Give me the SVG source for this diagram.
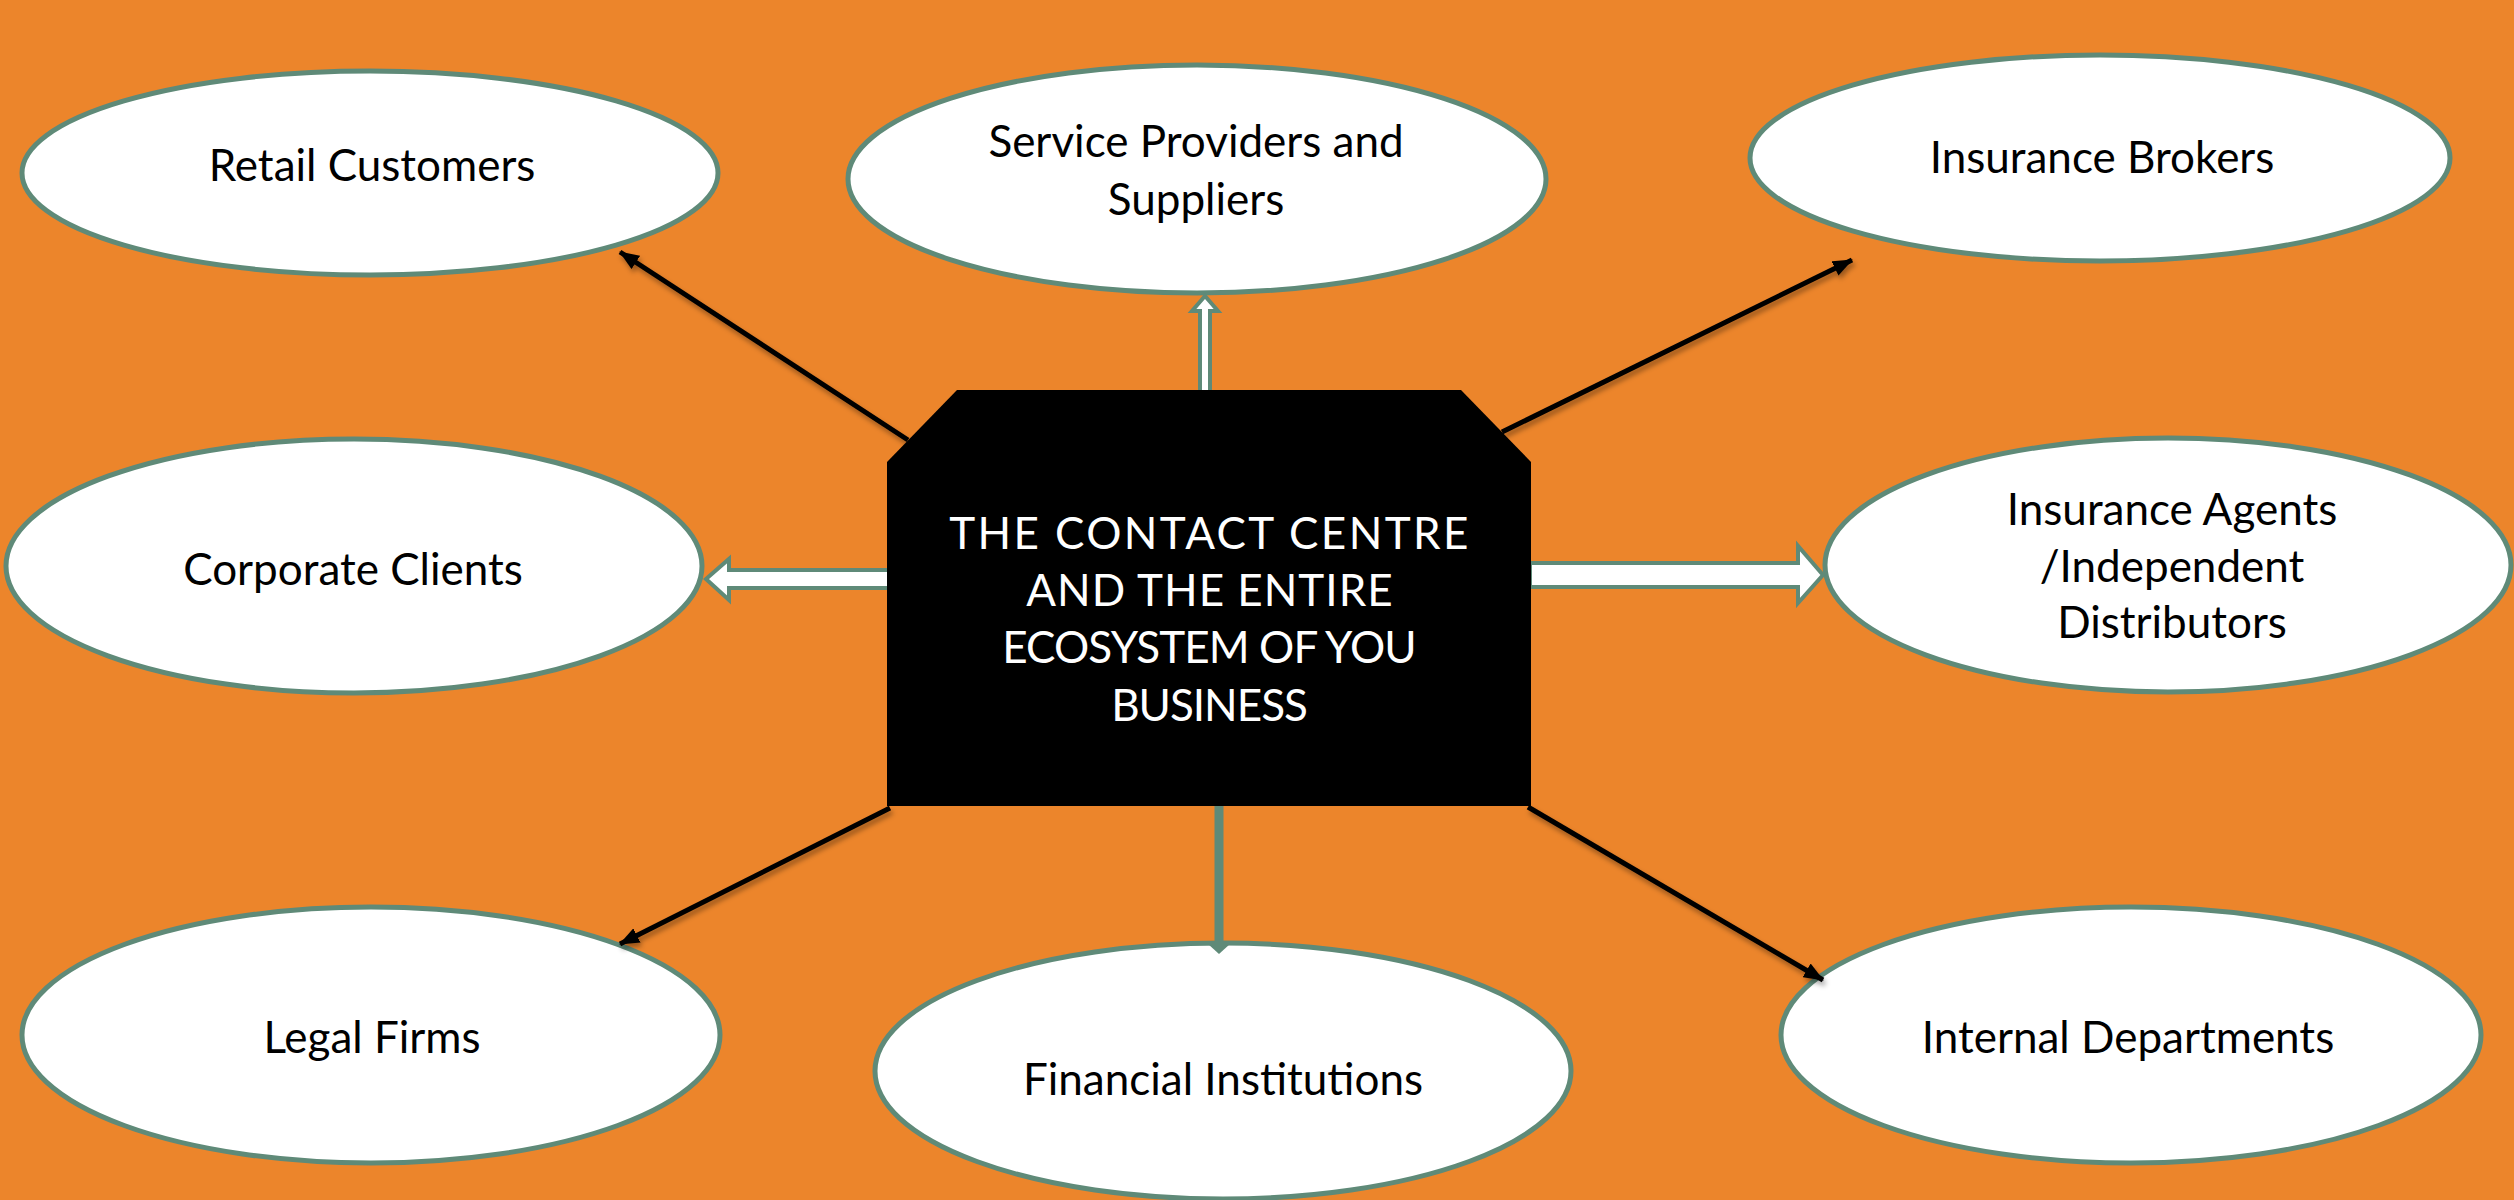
<svg xmlns="http://www.w3.org/2000/svg" width="2514" height="1200" viewBox="0 0 2514 1200">
  <defs>
    <style>
      .bubble { fill: #ffffff; stroke: #5f8a78; stroke-width: 5; }
      .label { font-family: Lato, "Gill Sans", "Liberation Sans", sans-serif; font-size: 44px; fill: #000000; text-anchor: middle; }
      .hub-text { font-family: Lato, "Gill Sans", "Liberation Sans", sans-serif; font-size: 44px; fill: #ffffff; text-anchor: middle; }
      .link { stroke: #000000; stroke-width: 5; fill: none; marker-end: url(#head); filter: url(#shade); }
      .block { fill: #ffffff; stroke: #5f8a78; stroke-width: 4; stroke-linejoin: miter; }
    </style>
    <marker id="head" viewBox="0 0 20 16" refX="19" refY="8" markerWidth="20" markerHeight="16" markerUnits="userSpaceOnUse" orient="auto">
      <path d="M0,0 L20,8 L0,16 Z" fill="#000000"/>
    </marker>
    <filter id="shade" x="-10%" y="-10%" width="120%" height="130%">
      <feDropShadow dx="2" dy="4" stdDeviation="2.5" flood-color="#000000" flood-opacity="0.35"/>
    </filter>
  </defs>

  <!-- background -->
  <rect x="0" y="0" width="2514" height="1200" fill="#ec852b"/>

  <!-- outer nodes -->
  <g id="retail-customers">
    <ellipse class="bubble" cx="370" cy="173" rx="348" ry="102"/>
    <text class="label" x="372" y="181">Retail Customers</text>
  </g>
  <g id="service-providers">
    <ellipse class="bubble" cx="1197" cy="179" rx="349" ry="114"/>
    <text class="label" x="1196" y="157">Service Providers and</text>
    <text class="label" x="1196" y="215">Suppliers</text>
  </g>
  <g id="insurance-brokers">
    <ellipse class="bubble" cx="2100" cy="158" rx="350" ry="103"/>
    <text class="label" x="2102" y="173">Insurance Brokers</text>
  </g>
  <g id="corporate-clients">
    <ellipse class="bubble" cx="354" cy="566" rx="348" ry="127"/>
    <text class="label" x="353" y="585">Corporate Clients</text>
  </g>
  <g id="insurance-agents">
    <ellipse class="bubble" cx="2168" cy="565" rx="343" ry="127"/>
    <text class="label" x="2172" y="525">Insurance Agents</text>
    <text class="label" x="2172" y="582">/Independent</text>
    <text class="label" x="2172" y="638">Distributors</text>
  </g>
  <g id="legal-firms">
    <ellipse class="bubble" cx="371" cy="1035" rx="349" ry="128"/>
    <text class="label" x="372" y="1053">Legal Firms</text>
  </g>
  <g id="financial-institutions">
    <ellipse class="bubble" cx="1223" cy="1071" rx="348" ry="128"/>
    <text class="label" x="1223" y="1095">Financial Institutions</text>
  </g>
  <g id="internal-departments">
    <ellipse class="bubble" cx="2131" cy="1035" rx="350" ry="128"/>
    <text class="label" x="2128" y="1053">Internal Departments</text>
  </g>

  <!-- connectors -->
  <g id="connectors">
    <line class="link" x1="908" y1="440" x2="620" y2="252"/>
    <line class="link" x1="1502" y1="432" x2="1852" y2="260"/>
    <line class="link" x1="890" y1="808" x2="620" y2="944"/>
    <line class="link" x1="1528" y1="807" x2="1823" y2="980"/>
    <!-- hollow block arrows -->
    <polygon class="block" points="1200,392 1200,311 1192,311 1205,296 1218,311 1210,311 1210,392"/>
    <polygon class="block" points="890,570 729,570 729,559 706,579 729,600 729,588 890,588"/>
    <polygon class="block" points="1530,563 1798,563 1798,546 1823,575 1798,603 1798,587 1530,587"/>
    <!-- solid stem down to Financial Institutions -->
    <line x1="1219" y1="804" x2="1219" y2="946" stroke="#5f8a78" stroke-width="9"/>
    <polygon points="1208,944 1230,944 1219,954" fill="#5f8a78"/>
  </g>

  <!-- central hub -->
  <g id="contact-centre">
    <polygon points="957,390 1461,390 1531,462 1531,806 887,806 887,462" fill="#000000"/>
    <text class="hub-text" x="1210" y="549" letter-spacing="2.4">THE CONTACT CENTRE</text>
    <text class="hub-text" x="1210" y="606" letter-spacing="1">AND THE ENTIRE</text>
    <text class="hub-text" x="1209" y="663" letter-spacing="-0.9">ECOSYSTEM OF YOU</text>
    <text class="hub-text" x="1209" y="721" letter-spacing="-1">BUSINESS</text>
  </g>
</svg>
